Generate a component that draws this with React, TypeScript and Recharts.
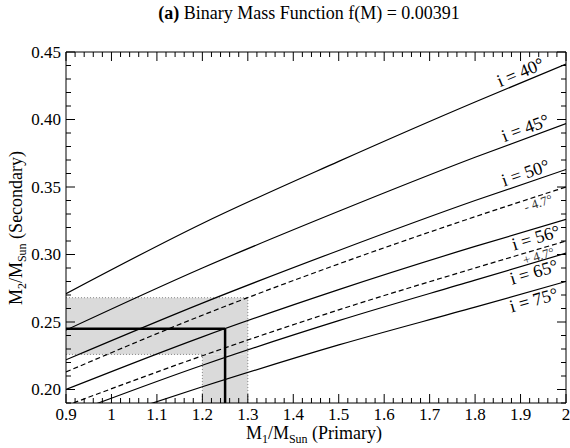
import React from 'react';
import { LineChart, Line, XAxis, YAxis, ReferenceArea, ReferenceLine } from 'recharts';

// Primary mass (M_sun) at which each constant-inclination curve is sampled
const primaryMass = [0.9, 1.2, 1.5, 1.8, 2.0];

// Secondary mass (M_sun) along each constant-inclination curve
const m2Inc40 = [0.271, 0.323, 0.369, 0.413, 0.441];
const m2Inc45 = [0.244, 0.29, 0.332, 0.372, 0.397];
const m2Inc50 = [0.222, 0.264, 0.303, 0.34, 0.363];
const m2IncMinus = [0.213, 0.255, 0.293, 0.328, 0.35]; // 56° − 4.7°
const m2Inc56 = [0.2, 0.239, 0.274, 0.306, 0.326];
const m2IncPlus = [0.188, 0.225, 0.259, 0.29, 0.31]; // 56° + 4.7°
const m2Inc65 = [0.181, 0.218, 0.251, 0.281, 0.301];
const m2Inc75 = [0.169, 0.202, 0.233, 0.261, 0.28];

// Adopted primary / secondary masses and their ranges
const primaryEstimate = 1.25;
const primaryRange = [1.2, 1.3];
const secondaryEstimate = 0.245;
const secondaryRange = [0.226, 0.268];

// Axis ticks and their labels
const xMajorTicks = [0.9, 1.0, 1.1, 1.2, 1.3, 1.4, 1.5, 1.6, 1.7, 1.8, 1.9, 2.0];
const xTickLabels = ['0.9', '1', '1.1', '1.2', '1.3', '1.4', '1.5', '1.6', '1.7', '1.8', '1.9', '2'];
const yMajorTicks = [0.2, 0.25, 0.3, 0.35, 0.4, 0.45];
const yTickLabels = ['0.20', '0.25', '0.30', '0.35', '0.40', '0.45'];

const X_DOMAIN: [number, number] = [0.9, 2.0];
const Y_DOMAIN: [number, number] = [0.19, 0.45];

type Curve = { key: string; values: number[]; text: string };
const curves: Curve[] = [
  { key: 'i40', values: m2Inc40, text: 'i = 40°' },
  { key: 'i45', values: m2Inc45, text: 'i = 45°' },
  { key: 'i50', values: m2Inc50, text: 'i = 50°' },
  { key: 'iMinus', values: m2IncMinus, text: '- 4.7°' },
  { key: 'i56', values: m2Inc56, text: 'i = 56°' },
  { key: 'iPlus', values: m2IncPlus, text: '+ 4.7°' },
  { key: 'i65', values: m2Inc65, text: 'i = 65°' },
  { key: 'i75', values: m2Inc75, text: 'i = 75°' },
];

// Drawing style of each curve and of its inline label
const curveStyles: Record<string, { dash?: string; back: number; offset: number; size: number; color: string }> = {
  i40: { back: 19, offset: -4, size: 18, color: '#000' },
  i45: { back: 14, offset: -4, size: 18, color: '#000' },
  i50: { back: 14, offset: -4, size: 18, color: '#000' },
  iMinus: { dash: '5 3', back: 16, offset: 11, size: 13, color: '#333' },
  i56: { back: 9, offset: 15, size: 18, color: '#000' },
  iPlus: { dash: '5 3', back: 14, offset: 11, size: 13, color: '#333' },
  i65: { back: 11, offset: 15, size: 18, color: '#000' },
  i75: { back: 11, offset: 15, size: 18, color: '#000' },
};

const rows = primaryMass.map((m, idx) => {
  const row: Record<string, number> = { m1: m };
  curves.forEach((c) => {
    row[c.key] = c.values[idx];
  });
  return row;
});

// Minor tick positions between the labelled ones
const subdivide = (lo: number, hi: number, step: number) => {
  const out: number[] = [];
  const n = Math.round((hi - lo) / step);
  for (let k = 0; k <= n; k++) out.push(Math.round((lo + k * step) * 1e4) / 1e4);
  return out;
};
const xTicks = subdivide(X_DOMAIN[0], X_DOMAIN[1], 0.02);
const yTicks = subdivide(Y_DOMAIN[0], Y_DOMAIN[1], 0.01);

// Layout: the plot frame is bounded by the four axes
const CHART_W = 570;
const CHART_H = 448;
const MARGIN = { top: 0, right: 0, bottom: 0, left: 0 };
const TOP_H = 52;
const RIGHT_W = 4;
const X_AXIS_H = 45;
const Y_AXIS_W = 66;
const PLOT_LEFT = Y_AXIS_W;
const PLOT_RIGHT = CHART_W - RIGHT_W;
const PLOT_TOP = TOP_H;
const PLOT_BOTTOM = CHART_H - X_AXIS_H;
const PLOT_W = PLOT_RIGHT - PLOT_LEFT;
const PLOT_H = PLOT_BOTTOM - PLOT_TOP;

const FONT = "'Liberation Serif', 'Times New Roman', Times, serif";
const MAJOR_LEN = 9;
const MINOR_LEN = 5;

type Side = 'bottom' | 'top' | 'left' | 'right';

const majorIndex = (v: number, majors: number[]) => majors.findIndex((m) => Math.abs(m - v) < 1e-6);

// Inward-pointing ticks on all four sides of the frame, labels on bottom and left
const renderTick = (side: Side) => (props: any) => {
  const horizontal = side === 'bottom' || side === 'top';
  const c = Number(props.payload?.coordinate ?? (horizontal ? props.x : props.y));
  const mi = majorIndex(props.payload.value, horizontal ? xMajorTicks : yMajorTicks);
  const len = mi >= 0 ? MAJOR_LEN : MINOR_LEN;
  let d = '';
  if (side === 'bottom') d = `M${c},${PLOT_BOTTOM}V${PLOT_BOTTOM - len}`;
  if (side === 'top') d = `M${c},${PLOT_TOP}V${PLOT_TOP + len}`;
  if (side === 'left') d = `M${PLOT_LEFT},${c}H${PLOT_LEFT + len}`;
  if (side === 'right') d = `M${PLOT_RIGHT},${c}H${PLOT_RIGHT - len}`;
  let text: React.ReactNode = null;
  if (side === 'bottom' && mi >= 0) {
    text = (
      <text x={c} y={PLOT_BOTTOM + 17} textAnchor="middle" fontFamily={FONT} fontSize={17} fill="#000" stroke="none">
        {xTickLabels[mi]}
      </text>
    );
  }
  if (side === 'left' && mi >= 0) {
    text = (
      <text
        x={PLOT_LEFT - 5}
        y={c}
        dy="0.35em"
        textAnchor="end"
        fontFamily={FONT}
        fontSize={17}
        fill="#000"
        stroke="none"
      >
        {yTickLabels[mi]}
      </text>
    );
  }
  return (
    <g>
      <path d={d} stroke="#000" strokeWidth={1} fill="none" />
      {text}
    </g>
  );
};

const curveLabel = (c: Curve) => {
  const style = curveStyles[c.key];
  const n = primaryMass.length - 1;
  const dm = primaryMass[n] - primaryMass[n - 1];
  const dv = c.values[n] - c.values[n - 1];
  const slope =
    ((dv * PLOT_H) / (Y_DOMAIN[1] - Y_DOMAIN[0])) / ((dm * PLOT_W) / (X_DOMAIN[1] - X_DOMAIN[0]));
  const angle = (Math.atan(slope) * 180) / Math.PI;
  return (props: any) => {
    if (props.index !== n) return null;
    const px = props.x ?? props.viewBox?.x;
    const py = props.y ?? props.viewBox?.y;
    if (px == null || py == null) return null;
    const ax = px - style.back;
    const ay = py + style.back * slope;
    return (
      <text
        x={ax}
        y={ay + style.offset}
        textAnchor="end"
        fontFamily={FONT}
        fontSize={style.size}
        fill={style.color}
        transform={`rotate(${-angle} ${ax} ${ay})`}
      >
        {c.text}
      </text>
    );
  };
};

const renderTitle = () => (
  <text x={309} y={19} textAnchor="middle" fontFamily={FONT} fontSize={18} fill="#000">
    <tspan fontWeight="bold">(a)</tspan>
    <tspan> Binary Mass Function f(M) = 0.00391</tspan>
  </text>
);

const renderXTitle = () => (
  <text x={314} y={439} textAnchor="middle" fontFamily={FONT} fontSize={18} fill="#000">
    <tspan>M</tspan>
    <tspan fontSize={12} dy={4}>1</tspan>
    <tspan dy={-4}>/M</tspan>
    <tspan fontSize={12} dy={4}>Sun</tspan>
    <tspan dy={-4}> (Primary)</tspan>
  </text>
);

const renderYTitle = () => (
  <text x={228} y={0} textAnchor="middle" fontFamily={FONT} fontSize={18} fill="#000" transform="translate(22 456) rotate(-90)">
    <tspan>M</tspan>
    <tspan fontSize={12} dy={4}>2</tspan>
    <tspan dy={-4}>/M</tspan>
    <tspan fontSize={12} dy={4}>Sun</tspan>
    <tspan dy={-4}> (Secondary)</tspan>
  </text>
);

const dotted = { stroke: '#888', strokeWidth: 1, strokeDasharray: '1 2' };

export default function App() {
  return (
    <div style={{ position: 'absolute', left: 0, top: 0, width: CHART_W, height: CHART_H, background: '#fff' }}>
      <LineChart width={CHART_W} height={CHART_H} data={rows} margin={MARGIN}>
        <XAxis
          dataKey="m1"
          type="number"
          domain={X_DOMAIN}
          allowDataOverflow
          ticks={xTicks}
          interval={0}
          height={X_AXIS_H}
          tickSize={0}
          tickMargin={0}
          tickLine={false}
          axisLine={{ stroke: '#000', strokeWidth: 1 }}
          tick={renderTick('bottom')}
          label={renderXTitle}
        />
        <XAxis
          xAxisId="top"
          dataKey="m1"
          orientation="top"
          type="number"
          domain={X_DOMAIN}
          allowDataOverflow
          ticks={xTicks}
          interval={0}
          height={TOP_H}
          tickSize={0}
          tickMargin={0}
          tickLine={false}
          axisLine={{ stroke: '#000', strokeWidth: 1 }}
          tick={renderTick('top')}
          label={renderTitle}
        />
        <YAxis
          type="number"
          domain={Y_DOMAIN}
          allowDataOverflow
          ticks={yTicks}
          interval={0}
          width={Y_AXIS_W}
          tickSize={0}
          tickMargin={0}
          tickLine={false}
          axisLine={{ stroke: '#000', strokeWidth: 1 }}
          tick={renderTick('left')}
          label={renderYTitle}
        />
        <YAxis
          yAxisId="right"
          orientation="right"
          type="number"
          domain={Y_DOMAIN}
          allowDataOverflow
          ticks={yTicks}
          interval={0}
          width={RIGHT_W}
          tickSize={0}
          tickMargin={0}
          tickLine={false}
          axisLine={{ stroke: '#000', strokeWidth: 1 }}
          tick={renderTick('right')}
        />

        <ReferenceArea
          x1={X_DOMAIN[0]}
          x2={primaryRange[1]}
          y1={secondaryRange[0]}
          y2={secondaryRange[1]}
          fill="#dadada"
          fillOpacity={1}
          stroke="none"
        />
        <ReferenceArea
          x1={primaryRange[0]}
          x2={primaryRange[1]}
          y1={Y_DOMAIN[0]}
          y2={secondaryRange[0]}
          fill="#dadada"
          fillOpacity={1}
          stroke="none"
        />
        <ReferenceLine
          segment={[
            { x: X_DOMAIN[0], y: secondaryRange[1] },
            { x: primaryRange[1], y: secondaryRange[1] },
          ]}
          {...dotted}
        />
        <ReferenceLine
          segment={[
            { x: primaryRange[1], y: Y_DOMAIN[0] },
            { x: primaryRange[1], y: secondaryRange[1] },
          ]}
          {...dotted}
        />
        <ReferenceLine
          segment={[
            { x: X_DOMAIN[0], y: secondaryRange[0] },
            { x: primaryRange[0], y: secondaryRange[0] },
          ]}
          {...dotted}
        />
        <ReferenceLine
          segment={[
            { x: primaryRange[0], y: Y_DOMAIN[0] },
            { x: primaryRange[0], y: secondaryRange[0] },
          ]}
          {...dotted}
        />

        {curves.map((c) => (
          <Line
            key={c.key}
            dataKey={c.key}
            type="monotone"
            stroke="#000"
            strokeWidth={1.2}
            strokeDasharray={curveStyles[c.key].dash}
            dot={false}
            activeDot={false}
            isAnimationActive={false}
            label={curveLabel(c)}
          />
        ))}

        <ReferenceLine
          segment={[
            { x: X_DOMAIN[0], y: secondaryEstimate },
            { x: primaryEstimate, y: secondaryEstimate },
          ]}
          stroke="#000"
          strokeWidth={2.5}
        />
        <ReferenceLine
          segment={[
            { x: primaryEstimate, y: Y_DOMAIN[0] },
            { x: primaryEstimate, y: secondaryEstimate },
          ]}
          stroke="#000"
          strokeWidth={2.5}
        />
      </LineChart>
    </div>
  );
}
